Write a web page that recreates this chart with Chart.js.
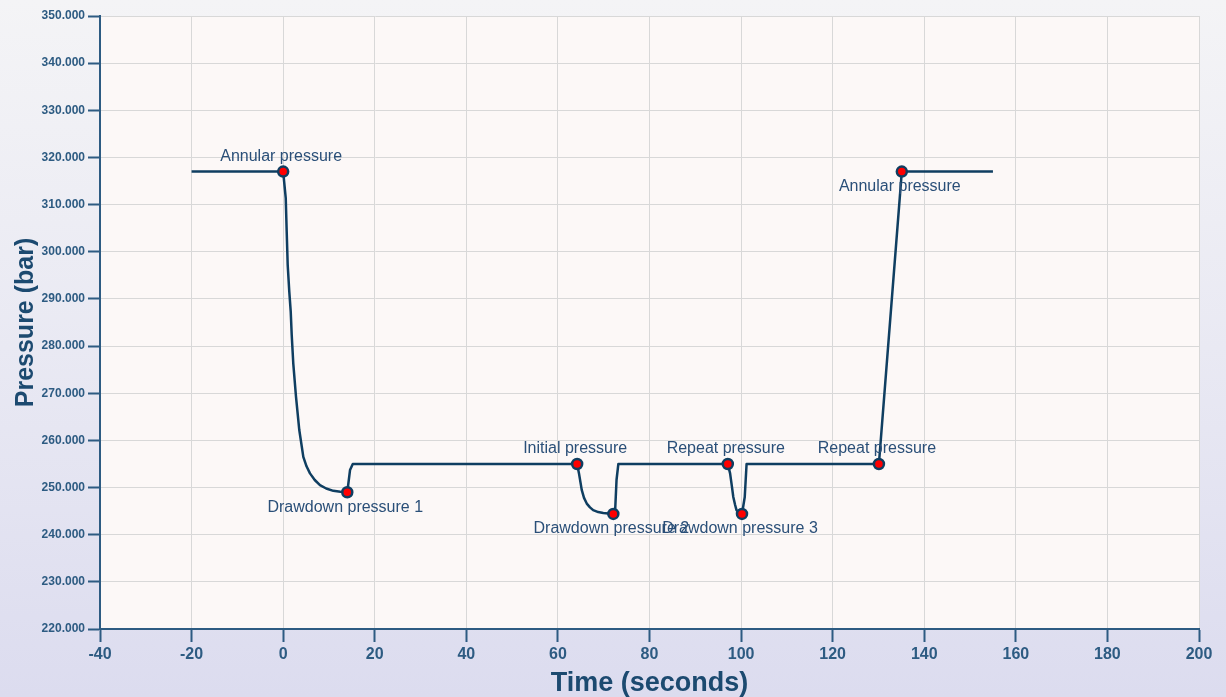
<!DOCTYPE html>
<html>
<head>
<meta charset="utf-8">
<script src="https://cdn.jsdelivr.net/npm/chart.js@4.4.1/dist/chart.umd.min.js"></script>
<style>
    html, body {
        margin: 0;
        padding: 0;
    }
    body {
        width: 1226px;
        height: 697px;
        overflow: hidden;
        background: linear-gradient(to bottom, #f4f4f6 0%, #e9e9f3 50%, #dcdcef 100%);
    }
    #wrap {
        width: 1226px;
        height: 697px;
    }
</style>
</head>
<body>
<div id="wrap">
    <canvas id="pressureChart" width="1226" height="697"></canvas>
</div>
<script>
// pressure trace (seconds, bar)
const timeValues = [
    -20, 0, 0.56, 0.77, 0.99, 1.34, 1.65, 1.87, 2.21, 2.8, 3.52, 4.4, 5.1, 5.86, 6.9, 8.04, 9.4, 10.95, 12.5, 14.0,
    14.6, 15.2,
    64.2, 64.6, 65.2, 65.7, 66.3, 67.0, 67.7, 68.8, 69.9, 71.0, 72.1, 72.5, 72.8, 73.2,
    97.1, 97.6, 98.0, 98.3, 98.7, 99.0, 99.5, 100.2, 100.8, 101.2,
    130.1, 135.1, 155
];
const pressureValues = [
    317, 317, 311.4, 304.3, 297.2, 291.5, 287.3, 282.3, 276.3, 269.3, 262.2, 256.5, 254.5, 253.0, 251.6, 250.5, 249.8, 249.3, 249.1, 249.0,
    253.7, 255,
    255, 253.0, 249.5, 247.8, 246.6, 245.8, 245.2, 244.8, 244.6, 244.5, 244.4, 245.2, 251.6, 255,
    255, 253.0, 250.2, 248.0, 246.3, 245.2, 244.7, 244.4, 248.0, 255,
    255, 317, 317
];

// marked points
const markerTimes = [0, 14.0, 64.2, 72.1, 97.1, 100.2, 130.1, 135.1];
const markerPressures = [317, 249.0, 255, 244.4, 255, 244.4, 255, 317];
const markerLabels = [
    'Annular pressure', 'Drawdown pressure 1', 'Initial pressure', 'Drawdown pressure 2',
    'Repeat pressure', 'Drawdown pressure 3', 'Repeat pressure', 'Annular pressure'
];

const lineColor = '#0f3e61';
const axisColor = '#2d5b82';
const textColor = '#2a4f78';

// labels above or below the dot
const labelBelow = [false, true, false, true, false, true, false, true];

const plotBackground = {
    id: 'plotBackground',
    beforeDraw(chart) {
        const {ctx, chartArea} = chart;
        ctx.save();
        ctx.fillStyle = '#fcf8f7';
        ctx.fillRect(chartArea.left, chartArea.top, chartArea.right - chartArea.left, chartArea.bottom - chartArea.top);
        ctx.restore();
    }
};

const pointLabels = {
    id: 'pointLabels',
    afterDatasetsDraw(chart) {
        const ctx = chart.ctx;
        const xs = chart.scales.x;
        const ys = chart.scales.y;
        ctx.save();
        ctx.font = '16px "Liberation Sans", Arial, sans-serif';
        ctx.fillStyle = textColor;
        ctx.textAlign = 'center';
        ctx.textBaseline = 'middle';
        markerLabels.forEach((label, i) => {
            const px = xs.getPixelForValue(markerTimes[i]) - 2;
            const py = ys.getPixelForValue(markerPressures[i]) + (labelBelow[i] ? 15 : -15);
            ctx.fillText(label, px, py);
        });
        ctx.restore();
    }
};

const trace = timeValues.map((t, i) => ({x: t, y: pressureValues[i]}));
const markers = markerTimes.map((t, i) => ({x: t, y: markerPressures[i]}));

new Chart(document.getElementById('pressureChart'), {
    type: 'scatter',
    data: {
        datasets: [
            {
                label: 'Markers',
                data: markers,
                showLine: false,
                pointRadius: 5,
                pointBackgroundColor: '#ff0000',
                pointBorderColor: lineColor,
                pointBorderWidth: 2.5,
                order: 0
            },
            {
                label: 'Pressure',
                data: trace,
                showLine: true,
                borderColor: lineColor,
                borderWidth: 2.5,
                borderJoinStyle: 'round',
                pointRadius: 0,
                tension: 0,
                fill: false,
                order: 1
            }
        ]
    },
    options: {
        responsive: false,
        animation: false,
        layout: {
            padding: {top: 16, right: 27, left: 0, bottom: 0}
        },
        plugins: {
            legend: {display: false},
            tooltip: {enabled: false}
        },
        scales: {
            x: {
                type: 'linear',
                min: -40,
                max: 200,
                afterFit(scale) {
                    scale.height = 68;
                },
                ticks: {
                    stepSize: 20,
                    padding: 3,
                    color: axisColor,
                    font: {family: '"Liberation Sans", Arial, sans-serif', size: 16, weight: 'bold'}
                },
                grid: {
                    color: '#d8d8d8',
                    lineWidth: 1,
                    tickColor: axisColor,
                    tickLength: 13,
                    tickWidth: 2
                },
                border: {color: axisColor, width: 2},
                title: {
                    display: true,
                    text: 'Time (seconds)',
                    color: '#1c4a70',
                    padding: {top: 0, bottom: 0},
                    font: {family: '"Liberation Sans", Arial, sans-serif', size: 27, weight: 'bold', lineHeight: 1}
                }
            },
            y: {
                type: 'linear',
                min: 220,
                max: 350,
                afterFit(scale) {
                    scale.width = 100;
                },
                ticks: {
                    stepSize: 10,
                    padding: 3,
                    color: axisColor,
                    font: {family: '"Liberation Sans", Arial, sans-serif', size: 12, weight: 'bold'},
                    callback: value => value.toFixed(3)
                },
                grid: {
                    color: '#d8d8d8',
                    lineWidth: 1,
                    tickColor: axisColor,
                    tickLength: 12,
                    tickWidth: 2
                },
                border: {color: axisColor, width: 2},
                title: {
                    display: true,
                    text: 'Pressure (bar)',
                    color: '#1c4a70',
                    padding: {top: 12, bottom: 0},
                    font: {family: '"Liberation Sans", Arial, sans-serif', size: 25, weight: 'bold', lineHeight: 1.1}
                }
            }
        }
    },
    plugins: [plotBackground, pointLabels]
});
</script>
</body>
</html>
